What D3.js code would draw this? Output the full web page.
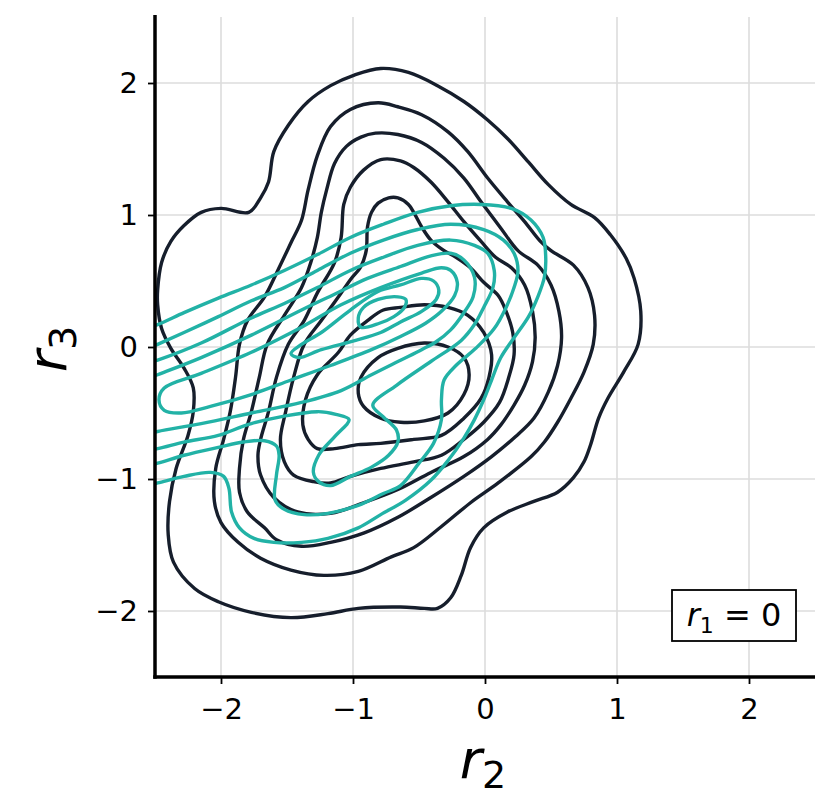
<!DOCTYPE html>
<html><head><meta charset="utf-8">
<script src="https://cdn.jsdelivr.net/npm/d3@7"></script>
<style>body{margin:0;background:#fff}svg{display:block}</style>
</head><body>
<script>
// ---- data (r2, r3) ----
const xTicks = [-2, -1, 0, 1, 2];
const yTicks = [-2, -1, 0, 1, 2];
const tickLabels = ["\u22122", "\u22121", "0", "1", "2"];
const xDomain = [-2.5, 2.5];
const yDomain = [-2.5, 2.5];

// dark contours (outer -> inner)
const dark1 = [[-2.48,0.43],[-2.45,0.64],[-2.38,0.80],[-2.28,0.92],[-2.15,1.02],[-2.00,1.05],[-1.79,1.02],[-1.70,1.13],[-1.64,1.25],[-1.60,1.48],[-1.49,1.68],[-1.34,1.86],[-1.17,1.98],[-0.99,2.06],[-0.79,2.11],[-0.58,2.08],[-0.36,1.98],[-0.16,1.86],[0.02,1.72],[0.17,1.58],[0.33,1.40],[0.48,1.23],[0.65,1.08],[0.83,0.98],[0.95,0.85],[1.07,0.67],[1.13,0.52],[1.18,0.27],[1.16,0.02],[1.05,-0.19],[0.93,-0.39],[0.86,-0.54],[0.80,-0.74],[0.75,-0.87],[0.67,-0.99],[0.55,-1.10],[0.37,-1.17],[0.17,-1.25],[-0.01,-1.37],[-0.11,-1.52],[-0.18,-1.73],[-0.26,-1.90],[-0.36,-1.98],[-0.46,-1.98],[-0.64,-1.97],[-0.96,-1.98],[-1.19,-2.02],[-1.47,-2.05],[-1.77,-2.01],[-2.02,-1.93],[-2.20,-1.83],[-2.36,-1.63],[-2.40,-1.42],[-2.39,-1.17],[-2.34,-0.92],[-2.25,-0.67],[-2.21,-0.49],[-2.21,-0.31],[-2.28,-0.16],[-2.38,-0.01],[-2.45,0.14],[-2.48,0.32]];
const dark2 = [[-1.80,0.20],[-1.67,0.38],[-1.57,0.58],[-1.47,0.79],[-1.39,0.96],[-1.34,1.19],[-1.27,1.45],[-1.17,1.67],[-1.02,1.80],[-0.81,1.85],[-0.66,1.82],[-0.48,1.76],[-0.28,1.63],[-0.13,1.48],[0.02,1.28],[0.17,1.10],[0.30,0.95],[0.42,0.80],[0.50,0.73],[0.67,0.62],[0.78,0.45],[0.83,0.24],[0.82,0.02],[0.75,-0.19],[0.65,-0.39],[0.55,-0.57],[0.45,-0.72],[0.35,-0.83],[0.10,-1.03],[-0.11,-1.18],[-0.33,-1.36],[-0.54,-1.52],[-0.71,-1.59],[-0.96,-1.70],[-1.22,-1.73],[-1.47,-1.69],[-1.70,-1.60],[-1.87,-1.48],[-2.00,-1.33],[-2.05,-1.17],[-2.04,-0.92],[-1.98,-0.70],[-1.93,-0.49],[-1.89,-0.23],[-1.86,0.02]];
const dark3 = [[-1.52,0.24],[-1.39,0.45],[-1.32,0.64],[-1.27,0.83],[-1.24,1.02],[-1.20,1.19],[-1.14,1.39],[-1.05,1.52],[-0.94,1.59],[-0.83,1.62],[-0.66,1.61],[-0.48,1.55],[-0.31,1.43],[-0.16,1.28],[-0.03,1.10],[0.12,0.90],[0.25,0.73],[0.40,0.62],[0.50,0.47],[0.56,0.27],[0.58,0.07],[0.55,-0.14],[0.48,-0.34],[0.37,-0.54],[0.23,-0.68],[0.05,-0.83],[-0.16,-0.98],[-0.41,-1.14],[-0.66,-1.29],[-0.92,-1.41],[-1.17,-1.48],[-1.39,-1.51],[-1.58,-1.46],[-1.67,-1.37],[-1.80,-1.25],[-1.86,-1.10],[-1.86,-0.92],[-1.83,-0.70],[-1.77,-0.49],[-1.71,-0.23],[-1.65,0.02]];
const dark4 = [[-1.37,0.20],[-1.27,0.41],[-1.14,0.64],[-1.09,0.83],[-1.07,1.08],[-1.02,1.21],[-0.92,1.34],[-0.79,1.42],[-0.64,1.41],[-0.54,1.36],[-0.41,1.25],[-0.28,1.10],[-0.16,0.95],[-0.03,0.80],[0.08,0.68],[0.20,0.60],[0.30,0.47],[0.36,0.27],[0.38,0.07],[0.36,-0.11],[0.30,-0.29],[0.22,-0.44],[0.12,-0.59],[0.02,-0.70],[-0.16,-0.83],[-0.41,-0.95],[-0.66,-1.08],[-0.92,-1.18],[-1.17,-1.26],[-1.42,-1.25],[-1.60,-1.14],[-1.70,-0.97],[-1.72,-0.82],[-1.70,-0.70],[-1.64,-0.49],[-1.58,-0.23],[-1.49,0.02]];
const dark5 = [[-0.90,0.73],[-0.89,0.91],[-0.86,1.02],[-0.81,1.09],[-0.73,1.13],[-0.66,1.13],[-0.58,1.08],[-0.54,1.02],[-0.48,0.91],[-0.41,0.81],[-0.31,0.73],[-0.22,0.68],[-0.11,0.60],[-0.01,0.49],[0.10,0.39],[0.16,0.27],[0.21,0.11],[0.22,-0.06],[0.18,-0.23],[0.11,-0.42],[-0.01,-0.57],[-0.16,-0.70],[-0.33,-0.82],[-0.54,-0.87],[-0.79,-0.92],[-1.02,-0.98],[-1.17,-1.03],[-1.30,-1.02],[-1.45,-0.97],[-1.52,-0.87],[-1.55,-0.70],[-1.51,-0.49],[-1.45,-0.23],[-1.37,0.02],[-1.24,0.20],[-1.11,0.38],[-1.02,0.51],[-0.94,0.61]];
const dark6 = [[-0.77,0.28],[-0.64,0.30],[-0.46,0.32],[-0.28,0.30],[-0.13,0.24],[-0.01,0.11],[0.05,-0.06],[0.03,-0.23],[-0.03,-0.39],[-0.16,-0.54],[-0.33,-0.67],[-0.54,-0.70],[-0.79,-0.73],[-0.96,-0.74],[-1.14,-0.77],[-1.27,-0.77],[-1.34,-0.70],[-1.38,-0.59],[-1.36,-0.40],[-1.27,-0.21],[-1.11,-0.04],[-1.02,0.09],[-0.89,0.20]];
const dark7 = [[-0.96,-0.35],[-0.94,-0.23],[-0.81,-0.08],[-0.66,-0.01],[-0.46,0.03],[-0.28,0.00],[-0.16,-0.08],[-0.12,-0.21],[-0.16,-0.36],[-0.28,-0.50],[-0.46,-0.56],[-0.64,-0.57],[-0.79,-0.54],[-0.92,-0.45]];

// teal contours (outer -> inner)
const teal1 = [[-2.61,0.13],[-2.48,0.17],[-2.28,0.26],[-2.02,0.37],[-1.77,0.47],[-1.52,0.58],[-1.27,0.70],[-1.02,0.83],[-0.77,0.93],[-0.51,1.02],[-0.26,1.07],[-0.03,1.08],[0.20,1.05],[0.35,0.96],[0.44,0.83],[0.46,0.68],[0.45,0.53],[0.40,0.38],[0.33,0.23],[0.22,0.07],[0.12,-0.08],[0.05,-0.25],[-0.01,-0.40],[-0.08,-0.55],[-0.16,-0.69],[-0.28,-0.86],[-0.41,-1.01],[-0.60,-1.16],[-0.79,-1.27],[-0.96,-1.37],[-1.19,-1.45],[-1.39,-1.48],[-1.60,-1.48],[-1.75,-1.45],[-1.86,-1.37],[-1.92,-1.25],[-1.94,-1.07],[-1.98,-0.98],[-2.08,-0.95],[-2.28,-0.98],[-2.48,-1.03],[-2.61,-1.06]];
const teal2 = [[-2.61,-0.04],[-2.48,0.02],[-2.28,0.11],[-2.02,0.23],[-1.77,0.35],[-1.52,0.45],[-1.27,0.58],[-1.02,0.71],[-0.77,0.81],[-0.51,0.89],[-0.26,0.93],[-0.01,0.89],[0.14,0.81],[0.22,0.71],[0.25,0.58],[0.22,0.45],[0.16,0.30],[0.07,0.14],[-0.07,-0.01],[-0.22,-0.14],[-0.31,-0.25],[-0.33,-0.40],[-0.33,-0.55],[-0.39,-0.73],[-0.50,-0.88],[-0.64,-1.05],[-0.77,-1.11],[-0.96,-1.20],[-1.19,-1.26],[-1.37,-1.27],[-1.52,-1.23],[-1.59,-1.16],[-1.58,-0.97],[-1.56,-0.82],[-1.58,-0.75],[-1.67,-0.71],[-1.83,-0.72],[-2.02,-0.76],[-2.28,-0.82],[-2.48,-0.88],[-2.61,-0.91]];
const teal3 = [[-2.61,-0.14],[-2.48,-0.10],[-2.15,0.03],[-1.77,0.22],[-1.52,0.33],[-1.27,0.45],[-1.02,0.58],[-0.77,0.68],[-0.51,0.77],[-0.26,0.81],[-0.08,0.77],[0.02,0.71],[0.07,0.58],[0.06,0.45],[-0.01,0.30],[-0.08,0.17],[-0.18,0.05],[-0.41,-0.11],[-0.67,-0.29],[-0.85,-0.44],[-0.77,-0.53],[-0.67,-0.63],[-0.66,-0.72],[-0.73,-0.82],[-0.86,-0.91],[-1.02,-0.98],[-1.17,-1.05],[-1.26,-1.02],[-1.30,-0.95],[-1.26,-0.82],[-1.13,-0.67],[-1.03,-0.55],[-1.13,-0.51],[-1.27,-0.49],[-1.77,-0.58],[-2.02,-0.67],[-2.28,-0.72],[-2.48,-0.77],[-2.61,-0.79]];
const teal4 = [[-2.61,-0.26],[-2.48,-0.21],[-2.15,-0.08],[-1.77,0.09],[-1.39,0.28],[-1.14,0.40],[-0.89,0.52],[-0.64,0.61],[-0.41,0.69],[-0.26,0.71],[-0.16,0.66],[-0.08,0.53],[-0.09,0.38],[-0.16,0.26],[-0.26,0.13],[-0.37,0.04],[-0.48,-0.02],[-0.64,-0.10],[-0.86,-0.21],[-1.09,-0.33],[-1.39,-0.42],[-1.77,-0.50],[-2.15,-0.58],[-2.48,-0.64],[-2.61,-0.67]];
const teal5 = [[-2.47,-0.40],[-2.43,-0.31],[-2.15,-0.20],[-1.77,-0.04],[-1.39,0.15],[-1.09,0.32],[-0.79,0.45],[-0.48,0.56],[-0.33,0.60],[-0.26,0.58],[-0.21,0.49],[-0.23,0.39],[-0.32,0.28],[-0.45,0.18],[-0.64,0.08],[-0.86,-0.02],[-1.17,-0.14],[-1.47,-0.25],[-1.77,-0.36],[-2.08,-0.45],[-2.30,-0.50],[-2.43,-0.48]];
const teal6 = [[-1.47,-0.05],[-1.39,0.02],[-1.24,0.11],[-1.02,0.28],[-0.81,0.42],[-0.64,0.47],[-0.48,0.52],[-0.39,0.50],[-0.35,0.43],[-0.37,0.36],[-0.48,0.27],[-0.64,0.19],[-0.79,0.11],[-0.98,0.05],[-1.24,-0.02],[-1.41,-0.08]];
const teal7 = [[-0.96,0.22],[-0.92,0.30],[-0.81,0.36],[-0.66,0.38],[-0.60,0.36],[-0.61,0.30],[-0.69,0.23],[-0.80,0.18],[-0.94,0.15]];

const darkContours = [dark1, dark2, dark3, dark4, dark5, dark6, dark7];
const tealContours = [teal1, teal2, teal3, teal4, teal5, teal6, teal7];

// ---- drawing ----
(function () {
const W = 831, H = 812;
const pL = 155, pR = 815, pT = 17, pB = 677;
const x = d3.scaleLinear().domain(xDomain).range([pL, pR]);
const y = d3.scaleLinear().domain(yDomain).range([pB, pT]);
const svg = d3.select("body").append("svg").attr("width", W).attr("height", H);

svg.append("defs").append("clipPath").attr("id", "clip")
  .append("rect").attr("x", pL).attr("y", pT).attr("width", pR - pL).attr("height", pB - pT);

// grid
const grid = svg.append("g");
grid.selectAll("line.gx").data(xTicks).join("line").attr("class", "gx")
  .attr("x1", d => x(d)).attr("x2", d => x(d)).attr("y1", pT).attr("y2", pB)
  .attr("stroke", "#dcdcdc").attr("stroke-width", 1.6);
grid.selectAll("line.gy").data(yTicks).join("line").attr("class", "gy")
  .attr("y1", d => y(d)).attr("y2", d => y(d)).attr("x1", pL).attr("x2", pR)
  .attr("stroke", "#dcdcdc").attr("stroke-width", 1.6);

const line = d3.line().x(d => x(d[0])).y(d => y(d[1])).curve(d3.curveCatmullRomClosed.alpha(0.5));
const g = svg.append("g").attr("clip-path", "url(#clip)");
g.selectAll("path.dark").data(darkContours).join("path").attr("class", "dark")
  .attr("d", line).attr("fill", "none").attr("stroke", "#161e2c").attr("stroke-width", 3.4)
  .attr("stroke-linejoin", "round");
g.selectAll("path.teal").data(tealContours).join("path").attr("class", "teal")
  .attr("d", line).attr("fill", "none").attr("stroke", "#22b2a6").attr("stroke-width", 3.4)
  .attr("stroke-linejoin", "round");

// axes
const font = "'DejaVu Sans', sans-serif";
const xAxis = svg.append("g").attr("transform", `translate(0,${pB})`)
  .call(d3.axisBottom(x).tickValues(xTicks).tickFormat((d, i) => tickLabels[i]).tickSize(7).tickPadding(9));
const yAxis = svg.append("g").attr("transform", `translate(${pL},0)`)
  .call(d3.axisLeft(y).tickValues(yTicks).tickFormat((d, i) => tickLabels[i]).tickSize(7).tickPadding(10));
[xAxis, yAxis].forEach(a => {
  a.select(".domain").remove();
  a.selectAll(".tick line").attr("stroke", "#000").attr("stroke-width", 1.8);
  a.selectAll(".tick text").attr("font-family", font).attr("font-size", 29).attr("fill", "#000");
});
xAxis.selectAll(".tick text").attr("dy", "0.9em");
// spines
svg.append("line").attr("x1", pL).attr("x2", pL).attr("y1", pT - 2).attr("y2", pB + 1.75)
  .attr("stroke", "#000").attr("stroke-width", 3.5);
svg.append("line").attr("x1", pL - 1.75).attr("x2", pR).attr("y1", pB).attr("y2", pB)
  .attr("stroke", "#000").attr("stroke-width", 3.5);

// axis labels
const xl = svg.append("text").attr("x", x(0) - 2).attr("y", 778).attr("text-anchor", "middle")
  .attr("font-family", font).attr("font-size", 54);
xl.append("tspan").attr("font-style", "italic").text("r");
xl.append("tspan").attr("font-size", 38).attr("dy", 10).text("2");
const yl = svg.append("text").attr("transform", `translate(66,${y(0) + 2}) rotate(-90)`).attr("text-anchor", "middle")
  .attr("font-family", font).attr("font-size", 54);
yl.append("tspan").attr("font-style", "italic").text("r");
yl.append("tspan").attr("font-size", 38).attr("dy", 10).text("3");

// panel label box
const bx = 672, by = 590, bw = 124, bh = 51;
svg.append("rect").attr("x", bx).attr("y", by).attr("width", bw).attr("height", bh)
  .attr("fill", "#fff").attr("stroke", "#000").attr("stroke-width", 1.8);
const pl = svg.append("text").attr("x", bx + bw / 2).attr("y", by + 36).attr("text-anchor", "middle")
  .attr("font-family", font).attr("font-size", 32);
pl.append("tspan").attr("font-style", "italic").text("r");
pl.append("tspan").attr("font-size", 22).attr("dy", 7).text("1");
pl.append("tspan").attr("dy", -7).text(" = 0");
})();
</script>
</body></html>
